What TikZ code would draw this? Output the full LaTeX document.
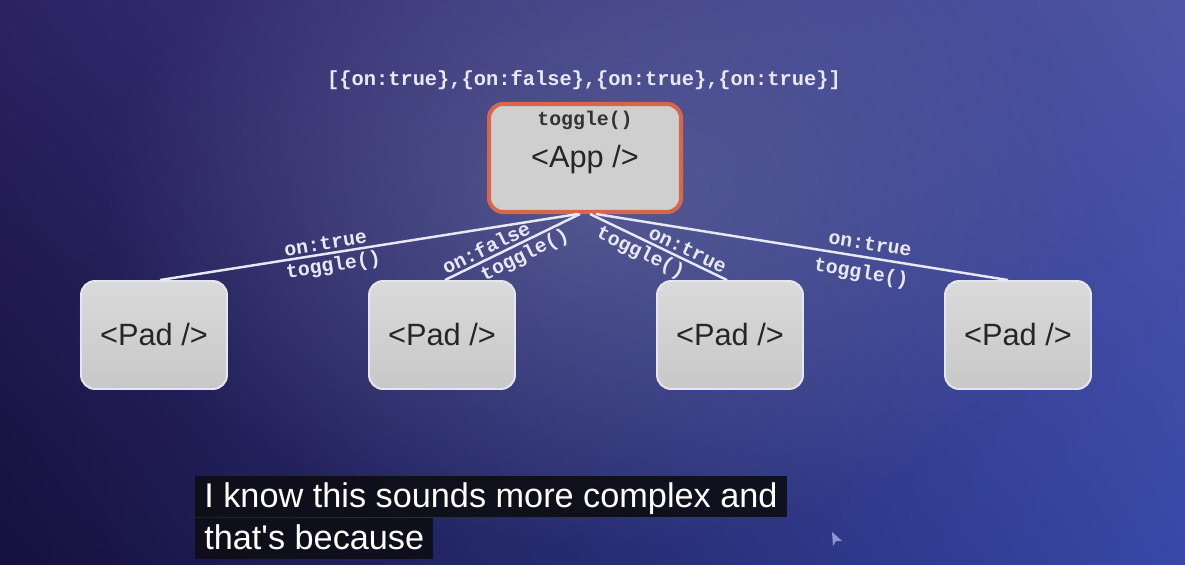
\documentclass[tikz,border=0pt]{standalone}
\usepackage{fontspec}
\setmainfont{Liberation Sans}
\newfontfamily\codefont{Liberation Mono}
\usepackage{xcolor}
\usepackage{tikz}
\usetikzlibrary{positioning,fadings,shadings}

\definecolor{bgul}{HTML}{2C2262}
\definecolor{bgur}{HTML}{4E56A6}
\definecolor{bgll}{HTML}{15103C}
\definecolor{bglr}{HTML}{3848A8}
\definecolor{glowcol}{HTML}{7880A8}
\definecolor{apporange}{HTML}{D8674A}
\definecolor{boxgray}{HTML}{CFCFCF}
\definecolor{padtop}{HTML}{DADADA}
\definecolor{padbot}{HTML}{C8C8C8}
\definecolor{padrim}{HTML}{E6E6EE}
\definecolor{linkwhite}{HTML}{E8E8F2}
\definecolor{capbg}{HTML}{0E0E16}
\definecolor{cursorcol}{HTML}{8A98D8}

\tikzfading[name=glowfade, inner color=transparent!55, outer color=transparent!100]

\begin{document}
\begin{tikzpicture}[x=0.02cm, y=0.02cm,
  appbox/.style={draw=apporange, line width=2.3pt, rounded corners=0.28cm, fill=boxgray, minimum width=3.84cm, minimum height=2.16cm},
  padbox/.style={draw=padrim, line width=1.1pt, rounded corners=0.28cm, top color=padtop, bottom color=padbot, minimum width=2.92cm, minimum height=2.16cm, font=\fontsize{17.5}{20}\selectfont, text=black!85},
  link/.style={draw=linkwhite, line width=1.4pt},
  code/.style={font=\codefont\bfseries\fontsize{11.3}{13}\selectfont, text=linkwhite, inner sep=1.5pt},
  caption/.style={fill=capbg, fill opacity=0.92, text opacity=1, text=white, font=\fontsize{19.5}{23}\selectfont, inner xsep=0.18cm, inner ysep=0pt, text height=0.62cm, text depth=0.2cm, anchor=north west}]
\useasboundingbox (0,0) rectangle (1185,-564);
% Background
\shade[upper left=bgul, upper right=bgur, lower left=bgll, lower right=bglr] (0,0) rectangle (1185,-564);
\fill[glowcol, path fading=glowfade] (600,-200) ellipse [x radius=10cm, y radius=7cm];
% State list
\node[code, font=\codefont\bfseries\fontsize{11.6}{13}\selectfont] (state) at (584,-80) {[\{on:true\},\{on:false\},\{on:true\},\{on:true\}]};
% App component
\node[appbox] (app) at (585,-158) {};
\node[code, text=black!80] (apptoggle) at (585,-120) {toggle()};
\node[font=\fontsize{17.5}{20}\selectfont, text=black!85] (applabel) at (585,-160) {<App />};
% Pad components
\node[padbox] (pad1) at (154,-335) {<Pad />};
\node[padbox] (pad2) at (442,-335) {<Pad />};
\node[padbox] (pad3) at (730,-335) {<Pad />};
\node[padbox] (pad4) at (1018,-335) {<Pad />};
% Props down, callbacks up
\draw[link] ([xshift=-0.14cm]app.south) -- node[code, sloped, above, pos=0.60] {on:true} node[code, sloped, below, pos=0.59] {toggle()} ([xshift=0.12cm]pad1.north);
\draw[link] ([xshift=-0.1cm]app.south) -- node[code, sloped, above, pos=0.66] {on:false} node[code, sloped, below, pos=0.45] {toggle()} ([xshift=0.06cm]pad2.north);
\draw[link] ([xshift=0.1cm]app.south) -- node[code, sloped, above, pos=0.68] {on:true} node[code, sloped, below, pos=0.41] {toggle()} ([xshift=-0.06cm]pad3.north);
\draw[link] ([xshift=0.22cm]app.south) -- node[code, sloped, above=2pt, pos=0.66] {on:true} node[code, sloped, below=2pt, pos=0.65] {toggle()} ([xshift=-0.2cm]pad4.north);
% Caption
\node[caption] (cap1) at (195,-476) {I know this sounds more complex and};
\node[caption] (cap2) at (cap1.south west) {that\textquotesingle s because};
% Cursor
\fill[cursorcol] (832,-532) -- (842,-541) -- (836,-541) -- (833,-546) -- cycle;
\end{tikzpicture}
\end{document}
